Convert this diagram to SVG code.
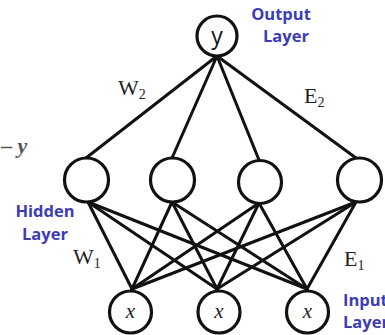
<svg xmlns="http://www.w3.org/2000/svg" width="385" height="335" viewBox="0 0 385 335">
<style>
.n{fill:#fff;stroke:#111;stroke-width:3.2}
.e{stroke:#111;stroke-width:3;stroke-linecap:round}
.lbl{font-family:"Open Sans","Liberation Sans",sans-serif;font-weight:bold;font-size:16.5px;fill:#3c3cb4;text-anchor:middle}
.st{text-anchor:start}
.m{font-family:"Liberation Serif","DejaVu Serif",serif;font-size:22px;fill:#222}
.s{font-size:14px}
.x{font-family:"Liberation Serif",serif;font-style:italic;font-size:21px;fill:#222;text-anchor:middle}
</style>
<rect width="385" height="335" fill="#fff"/>
<g id="connectors">
<line class="e" x1="217" y1="56" x2="86" y2="158"/>
<line class="e" x1="217" y1="56" x2="172" y2="158"/>
<line class="e" x1="217" y1="56" x2="259" y2="160"/>
<line class="e" x1="217" y1="56" x2="356" y2="158"/>
<line class="e" x1="88" y1="202" x2="132" y2="289"/>
<line class="e" x1="88" y1="202" x2="217" y2="289"/>
<line class="e" x1="88" y1="202" x2="307" y2="289"/>
<line class="e" x1="172" y1="202" x2="132" y2="289"/>
<line class="e" x1="172" y1="202" x2="217" y2="289"/>
<line class="e" x1="172" y1="202" x2="307" y2="289"/>
<line class="e" x1="259" y1="203" x2="132" y2="289"/>
<line class="e" x1="259" y1="203" x2="217" y2="289"/>
<line class="e" x1="259" y1="203" x2="307" y2="289"/>
<line class="e" x1="356" y1="202" x2="132" y2="289"/>
<line class="e" x1="356" y1="202" x2="217" y2="289"/>
<line class="e" x1="356" y1="202" x2="307" y2="289"/>
</g>
<g id="output"><circle class="n" cx="217" cy="36" r="20"/><text x="217" y="44" font-family="'Open Sans','Liberation Sans',sans-serif" font-size="23" fill="#111" text-anchor="middle">y</text></g>
<g id="hidden1"><circle class="n" cx="86.5" cy="180" r="22"/></g>
<g id="hidden2"><circle class="n" cx="172.5" cy="180" r="22"/></g>
<g id="hidden3"><circle class="n" cx="260" cy="182" r="21.5"/></g>
<g id="hidden4"><circle class="n" cx="359.5" cy="180" r="22"/></g>
<g id="input1"><circle class="n" cx="130.5" cy="312" r="21"/><text class="x" x="130.5" y="318">x</text></g>
<g id="input2"><circle class="n" cx="219" cy="312" r="21"/><text class="x" x="219" y="318">x</text></g>
<g id="input3"><circle class="n" cx="307.5" cy="312" r="21"/><text class="x" x="307.5" y="318">x</text></g>
<g id="labels">
<text class="lbl" x="281" y="20">Output</text>
<text class="lbl" x="286" y="42">Layer</text>
<text class="lbl" x="45" y="217">Hidden</text>
<text class="lbl" x="45" y="240">Layer</text>
<text class="lbl st" x="343" y="306">Input</text>
<text class="lbl st" x="343" y="328">Layer</text>
<text class="m" x="118" y="95">W<tspan class="s" dy="4">2</tspan></text>
<text class="m" x="304" y="103">E<tspan class="s" dy="4">2</tspan></text>
<text class="m" x="73" y="264">W<tspan class="s" dy="4">1</tspan></text>
<text class="m" x="344" y="266">E<tspan class="s" dy="4">1</tspan></text>
<text class="m" x="1" y="153" style="font-weight:bold;fill:#555">– <tspan font-style="italic">y</tspan></text>
</g>
</svg>
